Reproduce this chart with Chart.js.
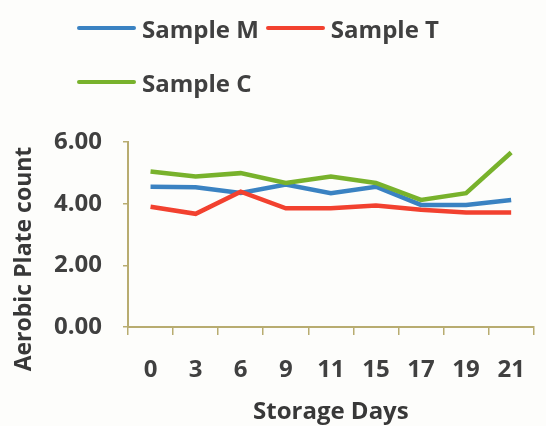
<!DOCTYPE html>
<html>
<head>
<meta charset="utf-8">
<script src="https://cdn.jsdelivr.net/npm/chart.js@4/dist/chart.umd.min.js"></script>
<style>
  html, body { margin: 0; padding: 0; background: #fdfdfb; }
  #wrap { position: relative; width: 546px; height: 426px; }
  #legend {
    position: absolute; left: 77px; top: 14px; width: 400px;
    display: flex; flex-wrap: wrap; row-gap: 26px;
    font: bold 24px "Open Sans", sans-serif; color: #404040;
  }
  .item { display: flex; align-items: center; height: 28px; margin-right: 7px; }
  .item .swatch { width: 59px; height: 4px; border-radius: 2px; margin-right: 6px; }
</style>
</head>
<body>
<div id="wrap">
  <canvas id="chart" width="546" height="426"></canvas>
  <div id="legend"></div>
</div>
<script>
// storage days on the x axis
const days = ['0', '3', '6', '9', '11', '15', '17', '19', '21'];

const sampleM = [4.55, 4.53, 4.35, 4.62, 4.34, 4.55, 3.96, 3.96, 4.12];
const sampleT = [3.90, 3.67, 4.39, 3.85, 3.85, 3.94, 3.80, 3.71, 3.71];
const sampleC = [5.04, 4.88, 4.99, 4.67, 4.88, 4.67, 4.12, 4.34, 5.66];

const seriesNames  = ['Sample M', 'Sample T', 'Sample C'];
const seriesColors = ['#3a82c2', '#f2412f', '#78b22c'];

const axisColor = '#b8ac70';
const textColor = '#404040';
const tickFont  = { family: '"Open Sans", sans-serif', size: 24, weight: 'bold' };
const titleFont = { family: '"Open Sans", sans-serif', size: 24, weight: 'bold', lineHeight: 1 };

// y axis title drawn by hand so it can sit below the axis centre like the original
const yTitle = {
  id: 'yTitle',
  afterDraw(chart) {
    const ctx = chart.ctx;
    ctx.save();
    ctx.translate(24, 259);
    ctx.rotate(-Math.PI / 2);
    ctx.font = 'bold 23px "Open Sans", sans-serif';
    ctx.fillStyle = '#383838';
    ctx.textAlign = 'center';
    ctx.textBaseline = 'middle';
    ctx.fillText('Aerobic Plate count', 0, 0);
    ctx.restore();
  }
};

const chart = new Chart(document.getElementById('chart').getContext('2d'), {
  type: 'line',
  data: {
    labels: days,
    datasets: [sampleM, sampleT, sampleC].map((d, i) => ({
      label: seriesNames[i],
      data: d,
      borderColor: seriesColors[i],
      borderWidth: 4.5,
      pointRadius: 0,
      tension: 0,
      order: 2 - i,
    }))
  },
  options: {
    responsive: false,
    animation: false,
    layout: { padding: { top: 142, left: 0, right: 2, bottom: 0 } },
    plugins: {
      legend: { display: false },
      tooltip: { enabled: false }
    },
    scales: {
      x: {
        offset: true,
        grid: { offset: true, drawOnChartArea: false, color: axisColor, tickLength: 8, lineWidth: 1.5 },
        border: { color: axisColor, width: 2 },
        ticks: { color: textColor, font: tickFont, padding: 21, maxRotation: 0 },
        title: { display: true, text: 'Storage Days', color: '#383838', font: titleFont, padding: { top: 4, bottom: 2 } },
        afterFit: s => { s.height = 99; }
      },
      y: {
        min: 0,
        max: 6,
        ticks: { stepSize: 2, color: textColor, font: tickFont, padding: 21, callback: v => v.toFixed(2) },
        grid: { drawOnChartArea: false, color: axisColor, tickLength: 5, lineWidth: 1.5 },
        border: { color: axisColor, width: 2 },
        afterFit: s => { s.width = 128; }
      }
    }
  },
  plugins: [yTitle]
});

// legend built from the datasets, wrapping after two entries
const legend = document.getElementById('legend');
chart.data.datasets.forEach(ds => {
  const item = document.createElement('div');
  item.className = 'item';
  const sw = document.createElement('span');
  sw.className = 'swatch';
  sw.style.background = ds.borderColor;
  const txt = document.createElement('span');
  txt.textContent = ds.label;
  item.appendChild(sw);
  item.appendChild(txt);
  legend.appendChild(item);
});
</script>
</body>
</html>
